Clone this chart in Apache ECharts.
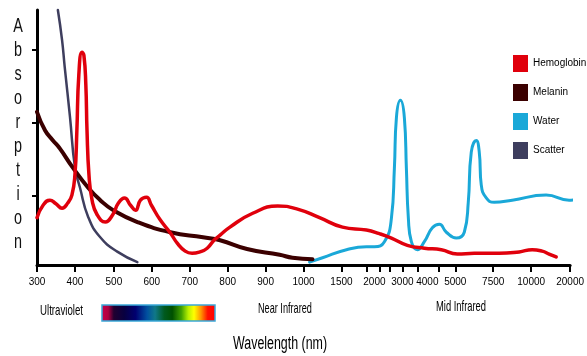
<!DOCTYPE html>
<html>
<head>
<meta charset="utf-8">
<script src="https://cdn.jsdelivr.net/npm/echarts@6/dist/echarts.min.js"></script>
<style>
html, body { margin: 0; padding: 0; background: #fff; }
#chart { width: 587px; height: 356px; }
</style>
</head>
<body>
<div id="chart"></div>
<script>
// wavelength labels and where they sit along the (non-linear) axis
var labelNm = [300, 400, 500, 600, 700, 800, 900, 1000, 1500, 2000, 3000, 4000, 5000, 7500, 10000, 20000];
var labelPos = [0, 38, 77, 115, 153, 191, 229, 267, 305, 338, 366, 391, 419, 457, 495, 534];
var tickPos = [0, 38, 77, 115, 153, 191, 229, 267, 305, 330, 343, 353, 366, 381, 402, 419, 457, 495, 534];
var yTicks = [0.95, 1.95, 2.96];

var seriesNames = ['Hemoglobin', 'Melanin', 'Water', 'Scatter'];
var seriesColors = ['#e0000c', '#3b0000', '#1aa8d8', '#3e3e5e'];

// [wavelength nm, absorption]
var hemoglobin = [[300,0.65],[316,0.82],[334,0.89],[350,0.84],[366,0.78],[381,0.85],[392,0.96],[400,1.24],[405,1.85],
	[410,2.61],[418,2.92],[423,2.88],[428,2.47],[431,1.85],[436,1.24],[444,0.89],[457,0.69],[478,0.59],[497,0.69],
	[512,0.85],[528,0.92],[544,0.82],[557,0.75],[570,0.89],[586,0.93],[599,0.82],[622,0.62],[649,0.44],[667,0.30],
	[688,0.19],[706,0.16],[727,0.18],[746,0.23],[764,0.34],[780,0.41],[806,0.52],[866,0.71],[932,0.81],[982,0.77],
	[1211,0.65],[1515,0.52],[1879,0.48],[2179,0.43],[2607,0.37],[3200,0.27],[3880,0.23],[4500,0.21],[5132,0.15],
	[6250,0.16],[7895,0.16],[9211,0.18],[10256,0.21],[12821,0.19],[14615,0.15],[16410,0.11]];
var melanin = [[300,2.10],[321,1.85],[342,1.71],[360,1.60],[394,1.34],[434,1.06],[465,0.89],[499,0.75],[562,0.59],
	[649,0.45],[735,0.38],[780,0.34],[851,0.22],[937,0.14],[971,0.10],[1118,0.08]];
var water = [[1079,0.04],[1250,0.10],[1576,0.21],[1879,0.25],[2000,0.25],[2357,0.32],[2607,0.64],[2714,1.33],
	[2786,2.02],[2929,2.26],[3080,2.02],[3160,1.33],[3240,0.64],[3360,0.32],[3600,0.21],[3880,0.32],[4179,0.51],
	[4429,0.56],[4679,0.45],[5066,0.37],[5592,0.45],[5855,0.86],[6053,1.55],[6382,1.71],[6579,1.55],[6711,1.10],
	[7040,0.92],[7566,0.86],[8750,0.89],[13846,0.96],[19744,0.89],[23077,0.93]];
var scatter = [[355,3.50],[366,3.09],[373,2.72],[387,2.03],[400,1.34],[413,1.06],[434,0.66],[465,0.38],[510,0.18],[562,0.04]];

var font = '"Liberation Sans", Arial, sans-serif';

function toPos(nm) {
	var i = 0;
	while (i < labelNm.length - 2 && nm > labelNm[i + 1]) i++;
	var f = (nm - labelNm[i]) / (labelNm[i + 1] - labelNm[i]);
	return labelPos[i] + f * (labelPos[i + 1] - labelPos[i]);
}
function conv(arr) {
	return arr.map(function (p) { return [toPos(p[0]), p[1]]; });
}

var chart = echarts.init(document.getElementById('chart'));
var allData = [hemoglobin, melanin, water, scatter];
var widths = [3.5, 4, 3, 2.5];
var series = [];
// draw order: scatter, water, melanin, hemoglobin on top
[3, 2, 1, 0].forEach(function (k) {
	series.push({
		name: seriesNames[k],
		type: 'line',
		data: conv(allData[k]),
		showSymbol: false,
		smooth: 0.5,
		clip: false,
		lineStyle: { color: seriesColors[k], width: widths[k], cap: 'round', join: 'round' },
		itemStyle: { color: seriesColors[k] }
	});
});

var option = {
	animation: false,
	backgroundColor: '#fff',
	grid: { left: 37, right: 16, top: 10, bottom: 91 },
	legend: {
		data: seriesNames,
		orient: 'vertical',
		left: 508,
		top: 50,
		icon: 'rect',
		itemWidth: 15,
		itemHeight: 17,
		itemGap: 12,
		textStyle: { fontFamily: font, fontSize: 10, color: '#000' }
	},
	xAxis: {
		type: 'value',
		min: 0,
		max: 534,
		axisLine: { lineStyle: { color: '#000', width: 3 } },
		axisTick: { customValues: tickPos, length: 7, lineStyle: { color: '#000', width: 2 } },
		axisLabel: {
			customValues: labelPos,
			margin: 12,
			fontFamily: font,
			fontSize: 10,
			color: '#000',
			formatter: function (v) {
				var i = labelPos.indexOf(v);
				return i >= 0 ? String(labelNm[i]) : '';
			}
		},
		splitLine: { show: false }
	},
	yAxis: {
		type: 'value',
		min: 0,
		max: 3.5,
		axisLine: { show: true, lineStyle: { color: '#000', width: 3 } },
		axisTick: { show: true, customValues: yTicks, length: 5, lineStyle: { color: '#000', width: 2 } },
		axisLabel: { show: false },
		splitLine: { show: false }
	},
	graphic: [
		{
			type: 'text', x: 18, y: 14, scaleX: 0.72,
			style: { text: 'Absorption'.split('').join('\n'), fontFamily: font, fontSize: 20, lineHeight: 24, align: 'center', verticalAlign: 'top', fill: '#111' }
		},
		{
			type: 'text', x: 40, y: 311, scaleX: 0.645,
			style: { text: 'Ultraviolet', fontFamily: font, fontSize: 15, align: 'left', verticalAlign: 'middle', fill: '#000' }
		},
		{
			type: 'text', x: 258, y: 309, scaleX: 0.61,
			style: { text: 'Near Infrared', fontFamily: font, fontSize: 15, align: 'left', verticalAlign: 'middle', fill: '#000' }
		},
		{
			type: 'text', x: 436, y: 307, scaleX: 0.625,
			style: { text: 'Mid Infrared', fontFamily: font, fontSize: 15, align: 'left', verticalAlign: 'middle', fill: '#000' }
		},
		{
			type: 'text', x: 233, y: 344, scaleX: 0.69,
			style: { text: 'Wavelength (nm)', fontFamily: font, fontSize: 18, align: 'left', verticalAlign: 'middle', fill: '#000' }
		},
		{
			type: 'rect',
			shape: { x: 102, y: 305, width: 113, height: 16 },
			style: {
				stroke: '#3aa8d8', lineWidth: 1.5,
				fill: new echarts.graphic.LinearGradient(0, 0, 1, 0, [
					{ offset: 0, color: '#c8004a' },
					{ offset: 0.06, color: '#b00040' },
					{ offset: 0.11, color: '#200030' },
					{ offset: 0.2, color: '#080040' },
					{ offset: 0.3, color: '#000070' },
					{ offset: 0.4, color: '#0050a0' },
					{ offset: 0.47, color: '#107888' },
					{ offset: 0.55, color: '#005a20' },
					{ offset: 0.62, color: '#005000' },
					{ offset: 0.7, color: '#40a000' },
					{ offset: 0.76, color: '#b8f000' },
					{ offset: 0.81, color: '#ffff00' },
					{ offset: 0.87, color: '#ff9800' },
					{ offset: 0.93, color: '#ff1000' },
					{ offset: 1, color: '#ff0000' }
				])
			}
		}
	],
	series: series
};
chart.setOption(option);
</script>
</body>
</html>
